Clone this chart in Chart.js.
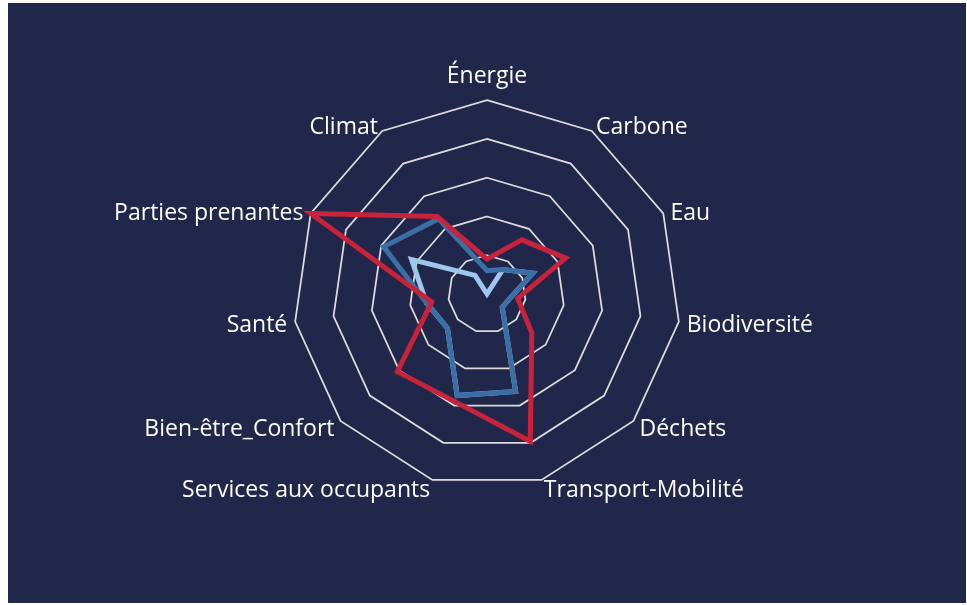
<!DOCTYPE html>
<html>
<head>
<meta charset="utf-8">
<script src="https://cdn.jsdelivr.net/npm/chart.js@4.4.0/dist/chart.umd.min.js"></script>
<style>
  html, body { margin: 0; padding: 0; background: #ffffff; }
  #wrap {
    position: absolute; left: 8px; top: 3px;
    width: 958px; height: 600px;
    background: #21274a;
  }
</style>
</head>
<body>
<div id="wrap"><canvas id="radar"></canvas></div>
<script>
// axes, clockwise from the top
const axes = [
  "Énergie", "Carbone", "Eau", "Biodiversité", "Déchets", "Transport-Mobilité",
  "Services aux occupants", "Bien-être_Confort", "Santé", "Parties prenantes", "Climat"
];

// values (scale 0..5, one ring per unit)
const redValues   = [0.9, 1.66, 2.23, 0.8, 1.53, 3.96, 2.9, 3.06, 1.44, 5, 2.38];
const blueValues  = [0.6, 0.75, 1.3, 0.62, 0.52, 2.62, 2.73, 1.35, 1.58, 2.93, 2.31];
const lightValues = [0.0, 0.75, 1.3, 0.62, 0.52, 2.62, 2.73, 1.35, 1.58, 2.14, 0.57];

const ringTicks = [0, 1, 2, 3, 4, 5];

function series(data, color) {
  return {
    data,
    borderColor: color,
    borderWidth: 5,
    borderJoinStyle: "miter",
    fill: false,
    pointRadius: 0,
    pointHoverRadius: 0,
    tension: 0,
  };
}

// axis names drawn next to each outer vertex, like the spreadsheet chart does
// (the built-in point labels stay in place, transparent, to keep the layout)
const axisLabels = {
  id: "axisLabels",
  afterDraw(chart) {
    const scale = chart.scales.r;
    const ctx = chart.ctx;
    ctx.save();
    ctx.fillStyle = "#ffffff";
    ctx.font = "23px 'Open Sans'";
    ctx.textBaseline = "middle";
    axes.forEach((label, i) => {
      const p = scale.getPointPosition(i, scale.drawingArea + 8);
      const deg = ((p.angle * 180) / Math.PI + 90 + 360) % 360;
      let y = p.y + 3;
      let align = "center";
      if (deg < 1 || deg > 359) {
        y -= 19;
      } else if (deg < 180) {
        align = "left";
      } else {
        align = "right";
      }
      ctx.textAlign = align;
      ctx.fillText(label, p.x, y);
    });
    ctx.restore();
  },
};

new Chart(document.getElementById("radar"), {
  type: "radar",
  data: {
    labels: axes,
    datasets: [
      series(redValues, "#c8233b"),
      series(blueValues, "#3b6fa5"),
      series(lightValues, "#9fc6ec"),
    ],
  },
  options: {
    responsive: true,
    maintainAspectRatio: false,
    animation: false,
    layout: { padding: { top: 58, bottom: 84, left: 20, right: 20 } },
    plugins: { legend: { display: false }, tooltip: { enabled: false } },
    scales: {
      r: {
        min: ringTicks[0],
        max: ringTicks[ringTicks.length - 1],
        afterBuildTicks: (scale) => {
          scale.ticks = ringTicks.map((v) => ({ value: v }));
        },
        ticks: { display: false },
        angleLines: { display: false },
        grid: { circular: false, color: "#dcdcdc", lineWidth: 1.75 },
        pointLabels: {
          color: "rgba(0,0,0,0)",
          padding: 10,
          font: { family: "Lato", size: 21 },
        },
      },
    },
  },
  plugins: [axisLabels],
});
</script>
</body>
</html>
